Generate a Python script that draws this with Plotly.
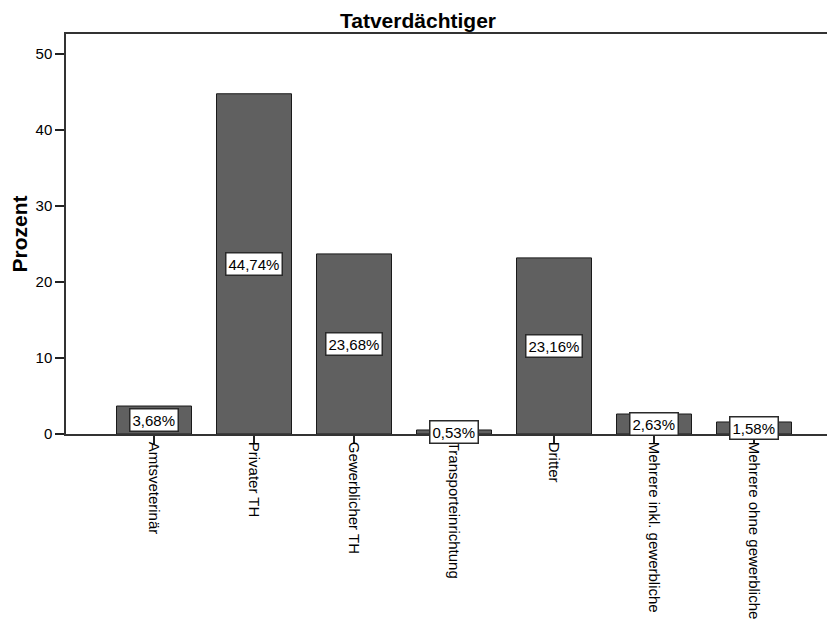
import plotly.graph_objects as go

categories = ["Amtsveterinär", "Privater TH", "Gewerblicher TH", "Transporteinrichtung",
              "Dritter", "Mehrere inkl. gewerbliche", "Mehrere ohne gewerbliche"]
percent = [3.68, 44.74, 23.68, 0.53, 23.16, 2.63, 1.58]
y_ticks = [0, 10, 20, 30, 40, 50]

font_family = "Liberation Sans, Arial, sans-serif"

# page body has an 8px default margin, so the figure is drawn 8px right and down
W, H = 827, 614

fig = go.Figure()
fig.add_trace(go.Bar(
    x=list(range(len(categories))),
    y=percent,
    width=0.75,
    marker=dict(color="#606060", line=dict(color="#1a1a1a", width=1)),
    hoverinfo="skip",
))

for i, v in enumerate(percent):
    fig.add_annotation(
        x=i, y=v / 2, xref="x", yref="y",
        text=f"{v:.2f}%".replace(".", ","),
        showarrow=False,
        font=dict(family=font_family, size=15, color="#000000"),
        bgcolor="#ffffff", bordercolor="#2a2a2a", borderwidth=1.5, borderpad=2,
    )

fig.update_layout(
    width=W, height=H,
    margin=dict(l=58, r=0, t=26, b=188),
    paper_bgcolor="white", plot_bgcolor="white",
    showlegend=False,
    title=dict(text="<b>Tatverdächtiger</b>", x=410 / W, xref="container", xanchor="center",
               y=1 - 13 / H, yref="container", yanchor="middle",
               font=dict(family=font_family, size=21, color="#000000")),
    font=dict(family=font_family, size=15, color="#000000"),
)

fig.update_xaxes(
    range=[-0.88, 6.81],
    tickmode="array", tickvals=list(range(len(categories))), ticktext=categories,
    tickangle=90, automargin=False, ticklabelstandoff=-5,
    ticks="outside", ticklen=8, tickwidth=1.5, tickcolor="#222222",
    showline=True, linecolor="#333333", linewidth=1.5, mirror=True,
    showgrid=False, zeroline=False,
    tickfont=dict(family=font_family, size=15, color="#000000"),
)
fig.update_yaxes(
    range=[0, 52.6], automargin=False,
    tickmode="array", tickvals=y_ticks,
    ticks="outside", ticklen=9, tickwidth=1.5, tickcolor="#222222",
    showline=True, linecolor="#333333", linewidth=1.5,
    showgrid=False, zeroline=False,
    tickfont=dict(family=font_family, size=15, color="#000000"),
    title=dict(text="<b>Prozent</b>", standoff=14,
               font=dict(family=font_family, size=21, color="#000000")),
)

fig.write_html("out.html")
